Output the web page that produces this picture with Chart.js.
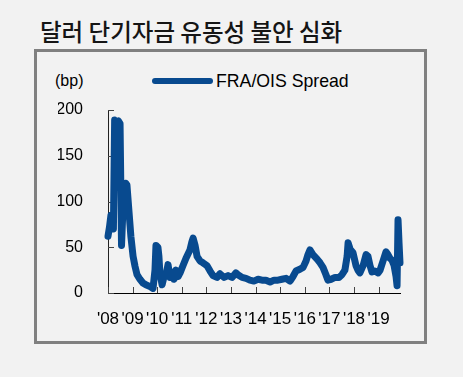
<!DOCTYPE html>
<html>
<head>
<meta charset="utf-8">
<script src="https://cdn.jsdelivr.net/npm/chart.js@4.4.1/dist/chart.umd.min.js"></script>
<style>
  body { margin: 0; background: #f2f2f2; width: 463px; height: 377px; overflow: hidden; position: relative; }
  #title { position: absolute; left: 40px; top: 14px; font: 500 23.5px 'Noto Sans CJK KR', sans-serif; color: #151515; white-space: nowrap; }
  #box { position: absolute; left: 34px; top: 49px; width: 393px; height: 295px; box-sizing: border-box; border: 3px solid #808080; }
  #unit { position: absolute; left: 55px; top: 72px; font: 16px 'Liberation Sans', Arial, sans-serif; color: #000; }
  #legend { position: absolute; left: 152px; top: 70px; font: 17.7px 'Liberation Sans', Arial, sans-serif; color: #000; display: flex; align-items: center; height: 22px; }
  #legend .swatch { width: 61px; height: 6px; border-radius: 3px; margin-right: 3px; }
  canvas { position: absolute; left: 0; top: 0; }
</style>
</head>
<body>
<div id="title">달러 단기자금 유동성 불안 심화</div>
<div id="box"></div>
<div id="unit">(bp)</div>
<div id="legend"></div>
<canvas id="chart" width="463" height="377"></canvas>
<script>
// decimal years
const fechas = [
  2008.00, 2008.06, 2008.12, 2008.22, 2008.27, 2008.34, 2008.42, 2008.49, 2008.55, 2008.62,
  2008.72, 2008.77, 2008.85, 2008.93, 2009.02, 2009.10, 2009.18,
  2009.30, 2009.42, 2009.54, 2009.71, 2009.83, 2009.91, 2009.95, 2010.03, 2010.07, 2010.11,
  2010.20, 2010.28, 2010.36, 2010.44, 2010.52, 2010.60, 2010.68, 2010.76, 2010.85, 2010.93,
  2011.05, 2011.17, 2011.33, 2011.41, 2011.46, 2011.54, 2011.62, 2011.74, 2011.86, 2012.02,
  2012.15, 2012.27, 2012.43, 2012.55, 2012.72, 2012.88, 2013.04, 2013.20, 2013.28, 2013.45,
  2013.61, 2013.77, 2013.93, 2014.10, 2014.26, 2014.42, 2014.59, 2014.75, 2014.91, 2015.07,
  2015.24, 2015.40, 2015.52, 2015.64, 2015.80, 2015.93, 2016.05, 2016.13, 2016.21, 2016.33,
  2016.50, 2016.62, 2016.74, 2016.86, 2016.94, 2017.07, 2017.23, 2017.39, 2017.51, 2017.63,
  2017.72, 2017.76, 2017.84, 2017.96, 2018.08, 2018.16, 2018.24, 2018.37, 2018.49, 2018.57,
  2018.65, 2018.73, 2018.85, 2018.98, 2019.06, 2019.18, 2019.30, 2019.38, 2019.46, 2019.54,
  2019.63, 2019.71, 2019.75, 2019.79, 2019.83, 2019.87
];
const spread = [
  62, 72, 85, 70, 189, 187, 188, 185, 52, 100,
  120, 118, 90, 62, 40, 29, 20,
  15, 11, 9, 7, 5, 25, 52, 50, 40, 22,
  9, 18, 20, 31, 17, 23, 15, 25, 18, 22,
  30, 38, 47, 56, 60, 52, 40, 35, 33, 30,
  24, 19, 17, 21, 17, 19, 17, 22, 20, 17,
  16, 14, 13, 15, 14, 14, 12, 14, 14, 15,
  16, 13, 18, 24, 26, 28, 35, 42, 47, 42,
  37, 33, 28, 20, 14, 15, 17, 17, 20, 25,
  40, 55, 48, 44, 30, 25, 22, 30, 42, 40,
  30, 23, 24, 22, 25, 35, 45, 42, 38, 36,
  30, 18, 8, 80, 55, 33
];
const anios = [2008, 2009, 2010, 2011, 2012, 2013, 2014, 2015, 2016, 2017, 2018, 2019];
const etiquetasAnio = ["'08", "'09", "'10", "'11", "'12", "'13", "'14", "'15", "'16", "'17", "'18", "'19"];
const valoresY = [0, 50, 100, 150, 200];
const serie = 'FRA/OIS Spread';
const azul = '#084a8f';

Chart.defaults.font.family = "'Liberation Sans', Arial, sans-serif";
Chart.defaults.font.size = 16;
Chart.defaults.color = '#000';

const marcasInternas = {
    id: 'marcasInternas',
    beforeDatasetsDraw(chart) {
        const { ctx, scales: { x, y } } = chart;
        ctx.save();
        ctx.strokeStyle = '#444';
        ctx.lineWidth = 1;
        ctx.beginPath();
        valoresY.forEach(v => {
            const py = Math.round(y.getPixelForValue(v)) + 0.5;
            ctx.moveTo(x.left, py);
            ctx.lineTo(x.left + 6, py);
        });
        anios.forEach(v => {
            const px = Math.round(x.getPixelForValue(v)) + 0.5;
            ctx.moveTo(px, y.bottom);
            ctx.lineTo(px, y.bottom - 6);
        });
        ctx.stroke();
        ctx.restore();
    }
};

const grafica = new Chart(document.getElementById('chart'), {
    type: 'line',
    data: {
        datasets: [{
            label: serie,
            data: fechas.map((f, i) => ({ x: f, y: spread[i] })),
            borderColor: azul,
            backgroundColor: azul,
            borderWidth: 7,
            borderJoinStyle: 'round',
            borderCapStyle: 'round',
            pointRadius: 0,
            tension: 0,
            clip: false
        }]
    },
    options: {
        responsive: false,
        animation: false,
        layout: { padding: { left: 58, right: 63, top: 110, bottom: 34 } },
        plugins: {
            legend: { display: false },
            tooltip: { enabled: false }
        },
        scales: {
            x: {
                type: 'linear',
                min: 2008,
                max: 2019.87,
                grid: { display: false, drawTicks: false },
                border: { display: true, color: '#000', width: 1 },
                afterBuildTicks: s => { s.ticks = anios.map(v => ({ value: v })); },
                afterFit: s => { s.height = 50; },
                ticks: {
                    autoSkip: false,
                    maxRotation: 0,
                    padding: 16,
                    font: { size: 17 },
                    callback: v => etiquetasAnio[anios.indexOf(v)]
                }
            },
            y: {
                min: 0,
                max: 200,
                grid: { display: false, drawTicks: false },
                border: { display: true, color: '#222', width: 1 },
                afterBuildTicks: s => { s.ticks = valoresY.map(v => ({ value: v })); },
                afterFit: s => { s.width = 50; },
                ticks: { padding: 25 }
            }
        }
    },
    plugins: [marcasInternas]
});

// legend from the dataset
const ley = document.getElementById('legend');
grafica.data.datasets.forEach(ds => {
    const sw = document.createElement('span');
    sw.className = 'swatch';
    sw.style.background = ds.borderColor;
    const tx = document.createElement('span');
    tx.textContent = ds.label;
    ley.appendChild(sw);
    ley.appendChild(tx);
});
</script>
</body>
</html>
